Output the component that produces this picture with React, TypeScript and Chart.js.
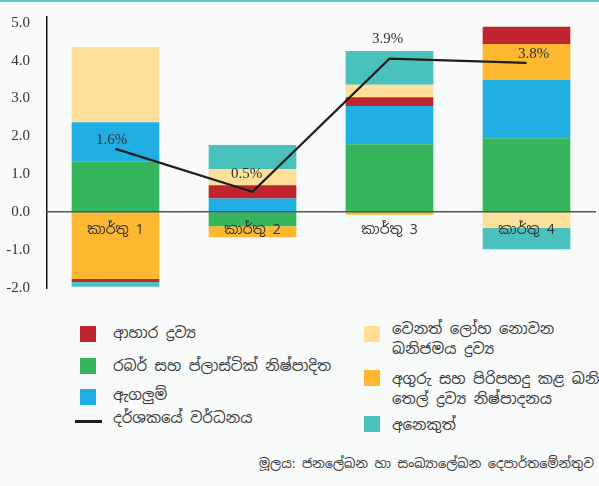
import React, { useEffect, useRef } from 'react';
import { Chart, registerables } from 'chart.js';

Chart.register(...registerables);

// ---- data ----
const categories = ['කාර්තු 1', 'කාර්තු 2', 'කාර්තු 3', 'කාර්තු 4'];
const rubberPlastic = [1.33, -0.37, 1.79, 1.95];
const apparel = [1.04, 0.36, 1.01, 1.54];
const coalPetroleum = [-1.76, -0.29, -0.07, 0.95];
const food = [-0.08, 0.35, 0.23, 0.45];
const nonMetallic = [1.99, 0.42, 0.33, -0.41];
const others = [-0.13, 0.64, 0.89, -0.57];
const indexGrowth = [1.67, 0.54, 4.05, 3.94];
const growthLabels = ['1.6%', '0.5%', '3.9%', '3.8%'];
const yTickValues = [-2, -1, 0, 1, 2, 3, 4, 5];

const seriesNames = {
  food: 'ආහාර ද්‍රව්‍ය',
  rubber: 'රබර් සහ ප්ලාස්ටික් නිෂ්පාදිත',
  apparel: 'ඇගලුම්',
  growth: 'දර්ශකයේ වර්ධනය',
  nonMetallic: ['වෙනත් ලෝහ නොවන', 'ඛනිජමය ද්‍රව්‍ය'],
  coal: ['අගුරු සහ පිරිපහදු කළ ඛනිජ', 'තෙල් ද්‍රව්‍ය නිෂ්පාදනය'],
  others: 'අනෙකුත්',
};
const sourceText = 'මූලය: ජනලේඛන හා සංඛ්‍යාලේඛන දෙපාර්තමේන්තුව';

const COLORS = {
  red: '#c0242e',
  green: '#35b65c',
  blue: '#21aee3',
  orange: '#fdb730',
  lightYellow: '#fedf99',
  teal: '#4bc1bd',
  line: '#1e1e1e',
};

const SINHALA = '"Noto Sans Sinhala", "Noto Serif Sinhala", "Iskoola Pota", "Noto Sans", sans-serif';
const SERIF = '"Liberation Serif", "Noto Serif Sinhala", "Noto Sans Sinhala", serif';

const labelPlugin = {
  id: 'growthLabels',
  afterDatasetsDraw(chart: any) {
    const meta = chart.getDatasetMeta(6);
    const offsets = [[-4, -9], [-6, -18], [-2, -20], [7, -9]];
    const ctx = chart.ctx;
    ctx.save();
    ctx.font = '15px ' + SERIF;
    ctx.fillStyle = '#333';
    ctx.textAlign = 'center';
    ctx.textBaseline = 'middle';
    meta.data.forEach((pt: any, i: number) => {
      ctx.fillText(growthLabels[i], pt.x + offsets[i][0], pt.y + offsets[i][1]);
    });
    ctx.restore();
  },
};

function ChartCanvas() {
  const ref = useRef<HTMLCanvasElement | null>(null);
  useEffect(() => {
    if (!ref.current) return;
    const bar = (label: string, data: number[], color: string) => ({
      type: 'bar' as const,
      label,
      data,
      backgroundColor: color,
      borderWidth: 0,
      stack: 'main',
      order: 1,
      categoryPercentage: 1,
      barPercentage: 0.64,
    });
    const chart = new Chart(ref.current, {
      type: 'bar',
      data: {
        labels: categories,
        datasets: [
          bar(seriesNames.rubber, rubberPlastic, COLORS.green),
          bar(seriesNames.apparel, apparel, COLORS.blue),
          bar(seriesNames.coal.join(' '), coalPetroleum, COLORS.orange),
          bar(seriesNames.food, food, COLORS.red),
          bar(seriesNames.nonMetallic.join(' '), nonMetallic, COLORS.lightYellow),
          bar(seriesNames.others, others, COLORS.teal),
          {
            type: 'line' as const,
            label: seriesNames.growth,
            data: indexGrowth,
            borderColor: COLORS.line,
            borderWidth: 2.2,
            pointRadius: 0,
            fill: false,
            tension: 0,
            stack: 'line',
            order: 0,
          } as any,
        ],
      },
      options: {
        animation: false,
        responsive: false,
        maintainAspectRatio: false,
        layout: { padding: { top: 17, right: 4, bottom: 12, left: 0 } },
        plugins: { legend: { display: false }, tooltip: { enabled: false } },
        scales: {
          x: {
            stacked: true,
            position: { y: 0 } as any,
            offset: true,
            grid: { display: false, drawTicks: false },
            border: { display: true, color: '#555', width: 1.5, z: 1 },
            ticks: { font: { family: SINHALA, size: 14 }, color: '#333', padding: 10, z: 1 },
            afterFit: (s: any) => {
              s.height = 0;
              s.paddingLeft = 0;
              s.paddingRight = 0;
              s.paddingTop = 0;
              s.paddingBottom = 0;
            },
          },
          y: {
            stacked: true,
            min: -2.0,
            max: 5.15,
            grid: { display: false, drawTicks: false },
            border: { display: true, color: '#111', width: 1.5 },
            ticks: {
              font: { family: SERIF, size: 15 },
              color: '#333',
              padding: 17,
              callback: (v: any) => Number(v).toFixed(1),
            },
            afterBuildTicks: (s: any) => { s.ticks = yTickValues.map((v) => ({ value: v })); },
            afterFit: (s: any) => {
              s.width = 47;
              s.paddingTop = 0;
              s.paddingBottom = 0;
            },
          },
        },
      },
      plugins: [labelPlugin],
    });
    return () => chart.destroy();
  }, []);
  return (
    <canvas
      ref={ref}
      width={599}
      height={300}
      style={{ position: 'absolute', left: 0, top: 0, width: 599, height: 300 }}
    />
  );
}

const textStyle: React.CSSProperties = {
  position: 'absolute',
  fontFamily: SINHALA,
  fontSize: 15,
  lineHeight: '20px',
  color: '#3a3a3a',
  whiteSpace: 'nowrap',
};

function Swatch({ x, y, color }: { x: number; y: number; color: string }) {
  return <div style={{ position: 'absolute', left: x, top: y, width: 16, height: 16, background: color }} />;
}

export default function App() {
  useEffect(() => {
    document.body.style.margin = '0';
  }, []);
  return (
    <div style={{ position: 'relative', width: 599, height: 486, background: '#f8fafa', overflow: 'hidden' }}>
      <div style={{ position: 'absolute', left: 0, top: 0, width: 599, height: 2, background: '#5ccac5' }} />
      <ChartCanvas />
      {/* left legend column */}
      <Swatch x={80} y={326} color={COLORS.red} />
      <div style={{ ...textStyle, left: 113, top: 323 }}>{seriesNames.food}</div>
      <Swatch x={80} y={358} color={COLORS.green} />
      <div style={{ ...textStyle, left: 113, top: 356 }}>{seriesNames.rubber}</div>
      <Swatch x={80} y={389} color={COLORS.blue} />
      <div style={{ ...textStyle, left: 113, top: 385 }}>{seriesNames.apparel}</div>
      <div style={{ position: 'absolute', left: 75, top: 420, width: 27, height: 3, background: COLORS.line }} />
      <div style={{ ...textStyle, left: 113, top: 408 }}>{seriesNames.growth}</div>
      {/* right legend column */}
      <Swatch x={364} y={326} color={COLORS.lightYellow} />
      <div style={{ ...textStyle, left: 392, top: 319 }}>
        {seriesNames.nonMetallic[0]}
        <br />
        {seriesNames.nonMetallic[1]}
      </div>
      <Swatch x={364} y={370} color={COLORS.orange} />
      <div style={{ ...textStyle, left: 392, top: 369 }}>
        {seriesNames.coal[0]}
        <br />
        {seriesNames.coal[1]}
      </div>
      <Swatch x={364} y={416} color={COLORS.teal} />
      <div style={{ ...textStyle, left: 392, top: 415 }}>{seriesNames.others}</div>
      {/* source */}
      <div style={{ ...textStyle, fontSize: 13, right: 5, top: 454 }}>{sourceText}</div>
    </div>
  );
}
